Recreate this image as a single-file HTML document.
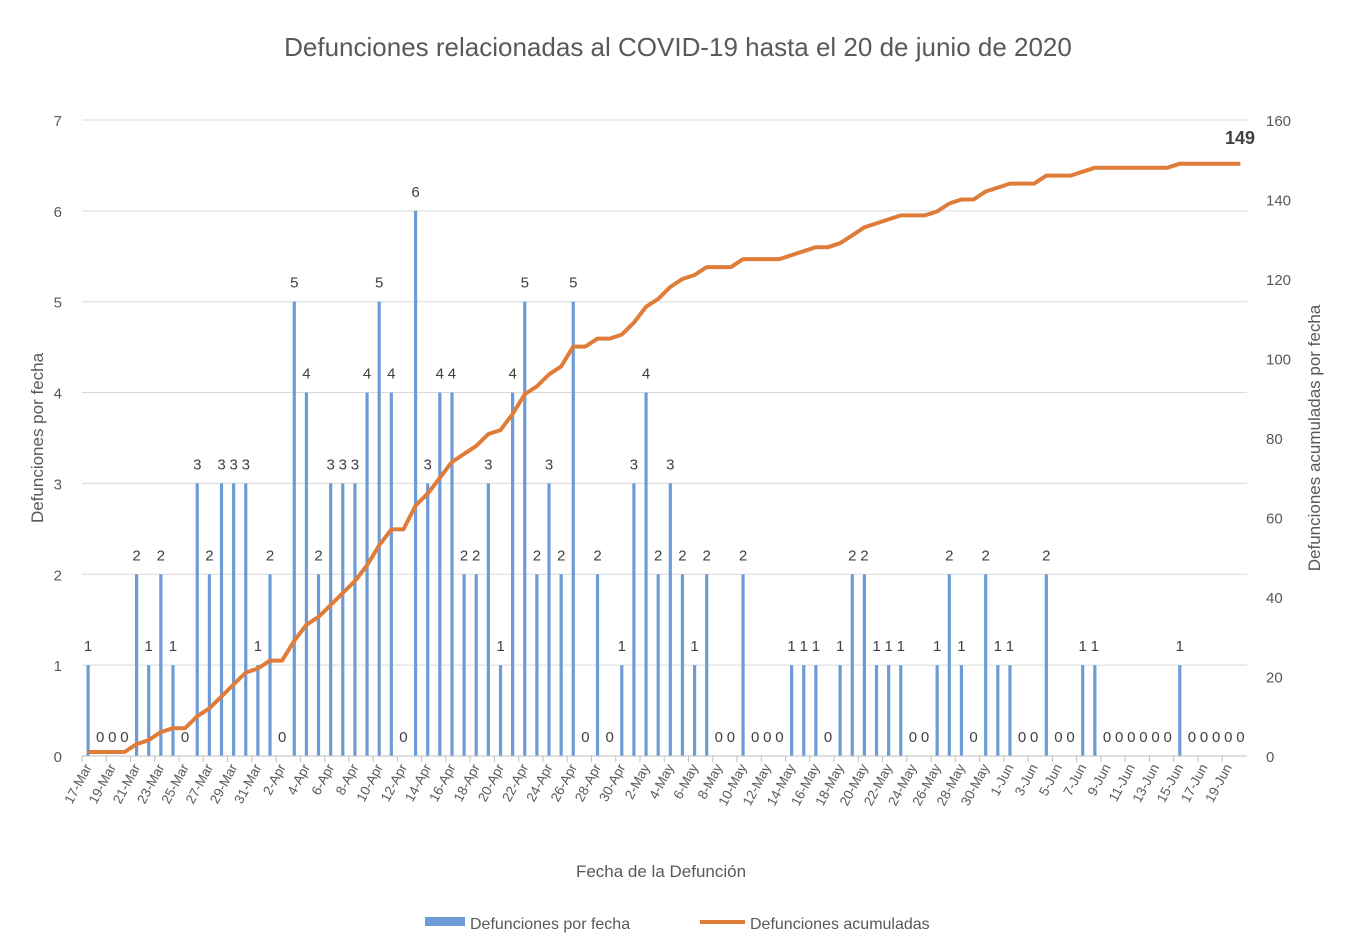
<!DOCTYPE html>
<html><head><meta charset="utf-8"><style>
html,body{margin:0;padding:0;background:#fff;}
svg{display:block;font-family:"Liberation Sans",sans-serif;}
</style></head><body>
<svg id="c" width="1353" height="949" viewBox="0 0 1353 949" xmlns="http://www.w3.org/2000/svg">
<text x="678" y="56" text-anchor="middle" font-size="26" fill="#595959">Defunciones relacionadas al COVID-19 hasta el 20 de junio de 2020</text>
<text transform="translate(43,438) rotate(-90)" text-anchor="middle" font-size="17" fill="#595959">Defunciones por fecha</text>
<text transform="translate(1320,438) rotate(-90)" text-anchor="middle" font-size="17" fill="#595959">Defunciones acumuladas por fecha</text>
<text x="661" y="877" text-anchor="middle" font-size="17" fill="#595959">Fecha de la Defunción</text>
<rect x="425" y="917" width="40" height="9" fill="#6c9bd6"/>
<text x="470" y="929" font-size="16" fill="#595959">Defunciones por fecha</text>
<line x1="700" y1="922" x2="745" y2="922" stroke="#e07c3a" stroke-width="4"/>
<text x="750" y="929" font-size="16" fill="#595959">Defunciones acumuladas</text>
<text x="1240" y="144" text-anchor="middle" font-size="18" font-weight="bold" fill="#404040">149</text>
</svg>
<script>
var v=[1,0,0,0,2,1,2,1,0,3,2,3,3,3,1,
2,0,5,4,2,3,3,3,4,5,4,0,6,3,4,4,2,2,3,1,4,5,2,3,2,5,0,2,0,1,
3,4,2,3,2,1,2,0,0,2,0,0,0,1,1,1,0,1,2,2,1,1,1,0,0,1,2,1,0,2,1,
1,0,0,2,0,0,1,1,0,0,0,0,0,0,1,0,0,0,0,0];
var s=document.getElementById('c'),h='';
var x0=82,w=12.13,y0=756,u=90.86;
for(var i=0;i<=7;i++){var y=y0-i*u;h+='<line x1="82" x2="1247" y1="'+y+'" y2="'+y+'" stroke="#d9d9d9" stroke-width="1"/>';
h+='<text x="62" y="'+(y+6)+'" text-anchor="end" font-size="15" fill="#595959">'+i+'</text>';}
for(var j=0;j<=8;j++){var y=y0-j*(636/8);h+='<text x="1266" y="'+(y+6)+'" font-size="15" fill="#595959">'+(j*20)+'</text>';}
var months=[['Mar',17,15],['Apr',1,30],['May',1,31],['Jun',1,20]],names=[];
months.forEach(function(m){for(var d=0;d<m[2];d++)names.push((m[1]+d)+'-'+m[0]);});
var cum=0,pts=[];
for(var i=0;i<v.length;i++){var cx=x0+w*(i+0.5);cum+=v[i];
if(v[i]>0)h+='<rect x="'+(cx-1.6)+'" y="'+(y0-v[i]*u)+'" width="3.2" height="'+(v[i]*u)+'" fill="#6c9bd6"/>';
h+='<text x="'+cx+'" y="'+(y0-v[i]*u-14)+'" text-anchor="middle" font-size="15" fill="#404040">'+v[i]+'</text>';
pts.push(cx.toFixed(1)+','+(y0-cum*636/160).toFixed(1));
if(i%2==0){h+='<line x1="'+(x0+w*i)+'" x2="'+(x0+w*i)+'" y1="756" y2="762" stroke="#bfbfbf"/>';
h+='<text transform="translate('+(cx+4)+',767) rotate(-62)" text-anchor="end" font-size="13.5" fill="#595959">'+names[i]+'</text>';}}
h+='<line x1="82" x2="1247" y1="756" y2="756" stroke="#bfbfbf"/>';
h+='<polyline points="'+pts.join(' ')+'" fill="none" stroke="#e07c3a" stroke-width="4" stroke-linejoin="round"/>';
s.insertAdjacentHTML('beforeend',h);
</script>
</body></html>
